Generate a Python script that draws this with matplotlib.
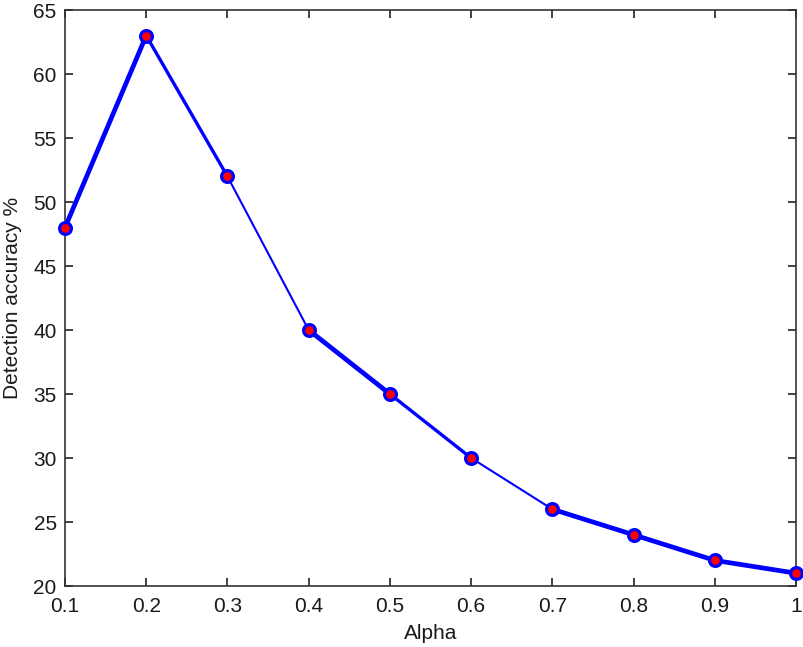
import matplotlib
matplotlib.use('Agg')
import matplotlib.pyplot as plt

alpha = [0.1, 0.2, 0.3, 0.4, 0.5, 0.6, 0.7, 0.8, 0.9, 1.0]
accuracy = [48, 63, 52, 40, 35, 30, 26, 24, 22, 21]
xticks = [0.1, 0.2, 0.3, 0.4, 0.5, 0.6, 0.7, 0.8, 0.9, 1.0]
xticklabels = ['0.1', '0.2', '0.3', '0.4', '0.5', '0.6', '0.7', '0.8', '0.9', '1']
yticks = [20, 25, 30, 35, 40, 45, 50, 55, 60, 65]

# segment widths differ in the original (overlapping curves)
seg_widths = [3.4, 2.4, 1.5, 3.4, 2.4, 1.5, 3.4, 3.4, 3.4]

plt.rcParams['font.family'] = ['Liberation Sans', 'DejaVu Sans']

fig = plt.figure(figsize=(8.04, 6.47), dpi=100)
ax = fig.add_axes([65/804, 1 - 586/647, (796-65)/804, (586-10)/647])

for i in range(len(alpha) - 1):
    ax.plot(alpha[i:i+2], accuracy[i:i+2], color='#0000ff', lw=seg_widths[i],
            solid_capstyle='round', zorder=2)
ax.plot(alpha, accuracy, linestyle='none', marker='o', markersize=8.5,
        markerfacecolor='#ff0000', markeredgecolor='#0000ff', markeredgewidth=2.3,
        zorder=3, clip_on=False)

ax.set_xlim(0.1, 1.0)
ax.set_ylim(20, 65)
ax.set_xticks(xticks)
ax.set_xticklabels(xticklabels)
ax.set_yticks(yticks)
ax.tick_params(direction='in', length=6, width=1.2, labelsize=15, top=True, right=True,
               color='#222222', labelcolor='#1a1a1a')
ax.tick_params(axis='x', pad=8)
ax.tick_params(axis='y', pad=6)
for s in ax.spines.values():
    s.set_linewidth(1.2)
    s.set_color('#333333')
ax.set_xlabel('Alpha', fontsize=15, color='#1a1a1a', labelpad=6)
ax.set_ylabel('Detection accuracy %', fontsize=15, color='#1a1a1a', labelpad=8)

fig.savefig('out.png', dpi=100)
